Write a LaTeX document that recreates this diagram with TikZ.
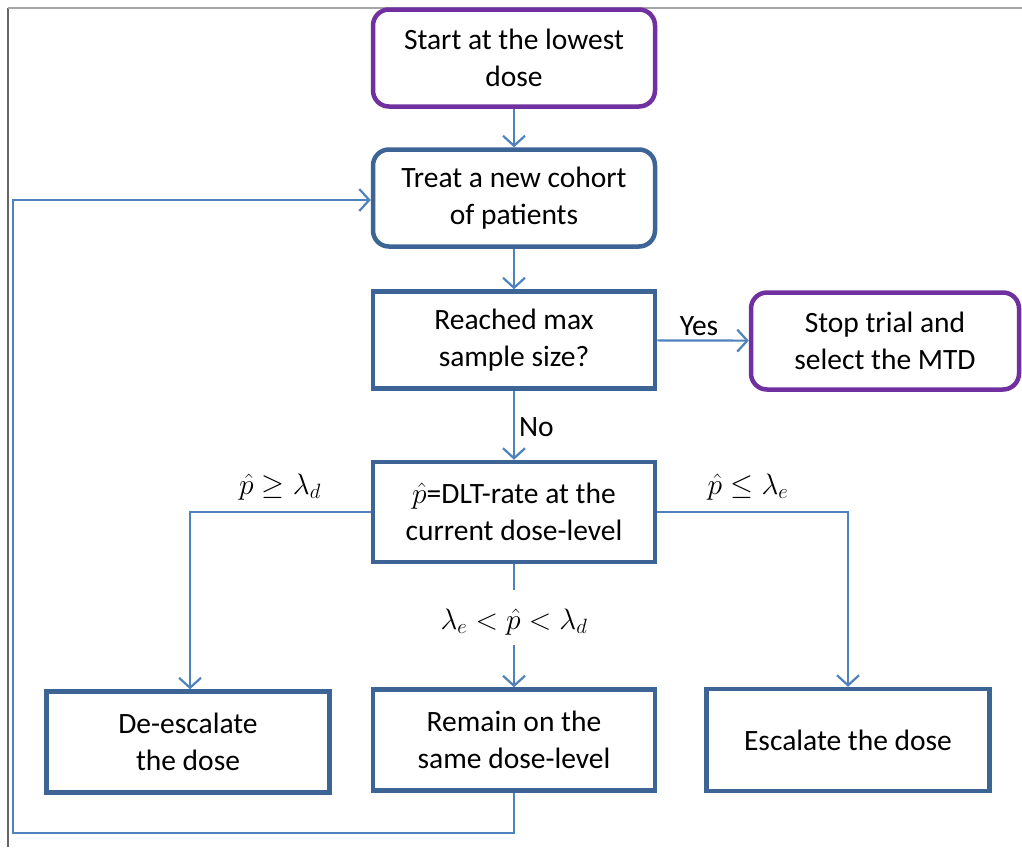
\documentclass[tikz,border=0pt]{standalone}
\usepackage{fix-cm}
\usepackage{fontspec}
\setmainfont{Carlito}
\usetikzlibrary{arrows.meta}
\definecolor{boxblue}{HTML}{3C6494}
\definecolor{boxpurple}{HTML}{7030A0}
\definecolor{arrowblue}{HTML}{4F81BD}
\begin{document}
\begin{tikzpicture}[x=1pt,y=-1pt,
  every node/.style={font=\fontsize{29.5}{37}\selectfont, align=center},
  basebox/.style={draw, line width=4.5pt, minimum width=282pt, minimum height=97pt, inner sep=0pt},
  procbox/.style={basebox, draw=boxblue},
  roundbox/.style={basebox, rounded corners=16pt},
  termbox/.style={roundbox, draw=boxpurple},
  flow/.style={draw=arrowblue, line width=2.2pt, -{Straight Barb[length=10pt,width=22pt,line width=2.2pt]}},
  plain/.style={draw=arrowblue, line width=2.2pt},
  lbl/.style={inner sep=1pt}]
\useasboundingbox (0,0) rectangle (1022,847);
\draw[draw=gray!80!black, line width=1.4pt] (8,847) -- (8,8);
\draw[draw=gray!70, line width=1.2pt] (8,8) -- (1022,8);

\node[termbox] (start) at (514,58) {Start at the lowest\\dose};
\node[roundbox, draw=boxblue] (treat) at (514,198) {Treat a new cohort\\of patients};
\node[procbox] (reach) at (514,340) {Reached max\\sample size?};
\node[termbox, minimum width=268pt] (stop) at (885,341) {Stop trial and\\select the MTD};
\node[procbox, minimum height=100pt] (dlt) at (514,512) {$\hat{p}$=DLT-rate at the\\current dose-level};
\node[procbox, minimum width=283pt, minimum height=101pt] (desc) at (188,742) {De-escalate\\the dose};
\node[procbox, minimum height=101pt] (remain) at (514,740) {Remain on the\\same dose-level};
\node[procbox, minimum width=283pt, minimum height=102pt] (esc) at (848,740) {Escalate the dose};

\coordinate (lc) at (190,512);
\coordinate (rc) at (848,512);
\coordinate (mg1) at (514,590);
\coordinate (mg2) at (514,645);
\coordinate (b1) at (514,833);
\coordinate (b2) at (13,833);
\coordinate (b3) at (13,200);

\draw[flow] (start) -- (treat);
\draw[flow] (treat) -- (reach);
\draw[flow] (reach) -- node[lbl, above, yshift=3pt, xshift=-4pt] {Yes} (stop);
\draw[flow] (reach) -- node[lbl, right, xshift=3pt, yshift=-2pt] {No} (dlt);
\draw[flow] (dlt.west) -- (lc) -- (desc.north -| lc);
\draw[flow] (dlt.east) -- (rc) -- (esc.north);
\draw[plain] (dlt.south) -- (mg1);
\draw[flow] (mg2) -- (remain.north);
\draw[flow] (remain.south) -- (b1) -- (b2) -- (b3) -- (treat.west |- b3);

\node[lbl] (lab1) at (280,487) {$\hat{p}\geq\lambda_d$};
\node[lbl] (lab2) at (748,487) {$\hat{p}\leq\lambda_e$};
\node[lbl] (lab3) at (514,622) {$\lambda_e<\hat{p}<\lambda_d$};
\end{tikzpicture}
\end{document}
